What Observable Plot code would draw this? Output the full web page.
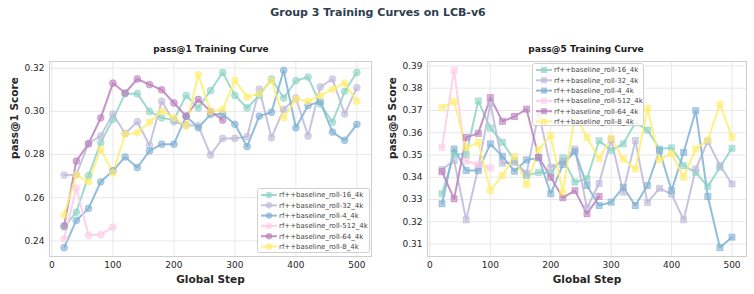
<!DOCTYPE html>
<html><head><meta charset="utf-8">
<script src="https://cdn.jsdelivr.net/npm/d3@7"></script>
<script src="https://cdn.jsdelivr.net/npm/@observablehq/plot@0.6"></script>
<style>
body{margin:0;background:#fff;font-family:"DejaVu Sans",sans-serif;}
#wrap{position:relative;width:754px;height:294px;overflow:hidden;background:#fff;}
.t{position:absolute;white-space:nowrap;font-weight:bold;transform:translate(-50%,-50%);line-height:1;}
.p{position:absolute;}
</style></head><body><div id="wrap"></div>
<script>
const seriesNames = ["rf++baseline_roll-16_4k","rf++baseline_roll-32_4k","rf++baseline_roll-4_4k","rf++baseline_roll-512_4k","rf++baseline_roll-64_4k","rf++baseline_roll-8_4k"];
const seriesColors = ["#8dd3c7","#bebada","#80b1d3","#fccde5","#bc80bd","#ffed6f"];
const steps = [20,40,60,80,100,120,140,160,180,200,220,240,260,280,300,320,340,360,380,400,420,440,460,480,500];
const xTicks = [0,100,200,300,400,500];

// pass@1
const p1_16 = [0.2465,0.2533,0.2702,0.2855,0.2963,0.3082,0.3082,0.3000,0.2970,0.2960,0.3074,0.3016,0.3096,0.3180,0.3074,0.3016,0.3074,0.3150,0.3062,0.3142,0.3159,0.3034,0.2950,0.3093,0.3180];
const p1_32 = [0.2705,0.2707,0.2852,0.2886,0.2988,0.2898,0.2952,0.2843,0.3047,0.2952,0.2936,0.2934,0.2798,0.2875,0.2875,0.2883,0.3103,0.2878,0.3009,0.3062,0.2886,0.3113,0.3150,0.2988,0.3110];
const p1_4  = [0.2369,0.2495,0.2551,0.2674,0.2725,0.2789,0.2740,0.2817,0.2848,0.2848,0.2978,0.2924,0.2986,0.2988,0.2940,0.2837,0.2978,0.2996,0.3190,0.2924,0.3027,0.3045,0.2904,0.2866,0.2940];
const p1_512 = [0.2410,0.2645,0.2426,0.2429,0.2464];
const p1_64 = [0.2470,0.2770,0.2850,0.2970,0.3131,0.3085,0.3150,0.3124,0.3100,0.3039,0.2978,0.3055,0.3000,0.2960];
const p1_8  = [0.2521,0.2706,0.2674,0.2825,0.2715,0.2894,0.2901,0.2950,0.3000,0.2970,0.2932,0.3170,0.3000,0.3009,0.3143,0.3067,0.3082,0.3143,0.2970,0.3057,0.3047,0.3073,0.3103,0.3131,0.3047];
const p1Ticks = [0.24,0.26,0.28,0.30,0.32];

// pass@5
const p5_16 = [0.3326,0.3505,0.3502,0.3743,0.3621,0.3557,0.3475,0.3408,0.3422,0.3418,0.3487,0.3378,0.3393,0.3564,0.3520,0.3550,0.3645,0.3612,0.3527,0.3532,0.3452,0.3422,0.3358,0.3445,0.3530];
const p5_32 = [0.3435,0.3475,0.3209,0.3442,0.3731,0.3463,0.3467,0.3418,0.3690,0.3445,0.3470,0.3527,0.3262,0.3372,0.3570,0.3333,0.3565,0.3286,0.3350,0.3324,0.3209,0.3437,0.3562,0.3453,0.3370];
const p5_4  = [0.3281,0.3527,0.3430,0.3430,0.3550,0.3494,0.3427,0.3478,0.3487,0.3326,0.3457,0.3516,0.3363,0.3273,0.3288,0.3355,0.3273,0.3363,0.3520,0.3340,0.3512,0.3699,0.3314,0.3084,0.3131];
const p5_512 = [0.3534,0.3880,0.3472,0.3457,0.3442];
const p5_64 = [0.3425,0.3303,0.3579,0.3597,0.3758,0.3651,0.3673,0.3706,0.3490,0.3400,0.3308,0.3340,0.3236,0.3314];
const p5_8  = [0.3713,0.3740,0.3532,0.3557,0.3340,0.3408,0.3493,0.3367,0.3525,0.3587,0.3333,0.3680,0.3579,0.3484,0.3576,0.3482,0.3437,0.3710,0.3478,0.3507,0.3400,0.3527,0.3567,0.3729,0.3579];
const p5Ticks = [0.31,0.32,0.33,0.34,0.35,0.36,0.37,0.38,0.39];

function toRows(arrs) {
  const rows = [];
  arrs.forEach((a, si) => a.forEach((v, i) => rows.push({series: seriesNames[si], step: steps[i], value: v})));
  return rows;
}
const rows1 = toRows([p1_16,p1_32,p1_4,p1_512,p1_64,p1_8]);
const rows5 = toRows([p5_16,p5_32,p5_4,p5_512,p5_64,p5_8]);

function makePlot(rows, yDomain, yTicks, symbol, yLabel, mLeft, mRight) {
  return Plot.plot({
    width: 377, height: 239,
    marginLeft: mLeft, marginRight: mRight, marginTop: 6, marginBottom: 38,
    style: {fontFamily: "DejaVu Sans, sans-serif", fontSize: "9px", color: "#262626", background: "#fff"},
    x: {domain: [-4, 524]},
    y: {domain: yDomain},
    color: {domain: seriesNames, range: seriesColors},
    marks: [
      Plot.gridX(xTicks, {stroke: "#e8e8e8", strokeOpacity: 1}),
      Plot.gridY(yTicks, {stroke: "#e8e8e8", strokeOpacity: 1}),
      Plot.frame({stroke: "#cfcfcf"}),
      Plot.line(rows, {x: "step", y: "value", z: "series", stroke: "series", strokeWidth: 2, strokeOpacity: 0.85}),
      Plot.dot(rows, {x: "step", y: "value", fill: "series", stroke: "series", symbol, r: 3.4, fillOpacity: 0.6, strokeOpacity: 0.6, strokeWidth: 1}),
      Plot.axisX({ticks: xTicks, tickSize: 0, tickPadding: 5, label: null}),
      Plot.axisY({ticks: yTicks, tickSize: 0, tickPadding: 5, tickFormat: d3.format(".2f"), label: null}),
      Plot.text(["Global Step"], {text: d => d, frameAnchor: "bottom", dy: 26, fontWeight: "bold", fontSize: 10.5, fill: "#262626"}),
      Plot.text([yLabel], {text: d => d, frameAnchor: "left", dx: -35, rotate: -90, fontWeight: "bold", fontSize: 10.5, fill: "#262626"})
    ]
  });
}

const wrap = document.getElementById("wrap");
function addText(txt, x, y, size, color) {
  const d = document.createElement("div");
  d.className = "t"; d.textContent = txt;
  d.style.left = x + "px"; d.style.top = y + "px";
  d.style.fontSize = size + "px"; d.style.color = color;
  wrap.appendChild(d);
}
addText("Group 3 Training Curves on LCB-v6", 378, 12, 11, "#2c3e50");
addText("pass@1 Training Curve", 211, 49, 9, "#1a1a1a");
addText("pass@5 Training Curve", 586, 49, 9, "#1a1a1a");

function addPlot(svg, left, top) {
  const d = document.createElement("div");
  d.className = "p"; d.style.left = left + "px"; d.style.top = top + "px";
  d.appendChild(svg); wrap.appendChild(d);
}
addPlot(makePlot(rows1, [0.2328, 0.3231], p1Ticks, "circle", "pass@1 Score", 49, 6), 0, 55);
addPlot(makePlot(rows5, [0.3044, 0.3920], p5Ticks, "square", "pass@5 Score", 50, 8), 377, 55);

function addLegend(x0, y0, w, h, symbol) {
  const svg = d3.select(wrap).append("svg")
    .style("position", "absolute").style("left", x0 + "px").style("top", y0 + "px")
    .attr("width", w).attr("height", h);
  svg.append("rect").attr("x", 0.5).attr("y", 0.5).attr("width", w - 1).attr("height", h - 1)
    .attr("rx", 2).attr("fill", "#fff").attr("fill-opacity", 0.85).attr("stroke", "#d0d0d0");
  seriesNames.forEach((n, i) => {
    const cy = 7 + i * 10.3;
    const g = svg.append("g");
    g.append("line").attr("x1", 4).attr("x2", 20).attr("y1", cy).attr("y2", cy)
      .attr("stroke", seriesColors[i]).attr("stroke-width", 2).attr("stroke-opacity", 0.85);
    if (symbol === "circle") {
      g.append("circle").attr("cx", 12).attr("cy", cy).attr("r", 3.2)
        .attr("fill", seriesColors[i]).attr("fill-opacity", 0.7);
    } else {
      g.append("rect").attr("x", 9).attr("y", cy - 3).attr("width", 6).attr("height", 6)
        .attr("fill", seriesColors[i]).attr("fill-opacity", 0.7);
    }
    g.append("text").attr("x", 22).attr("y", cy).attr("dy", "0.35em")
      .attr("font-family", "DejaVu Sans, sans-serif").attr("font-size", 7).attr("fill", "#444").text(n);
  });
}
addLegend(257, 188, 113, 65, "circle");
addLegend(532, 63, 112, 63, "square");
</script></body></html>
